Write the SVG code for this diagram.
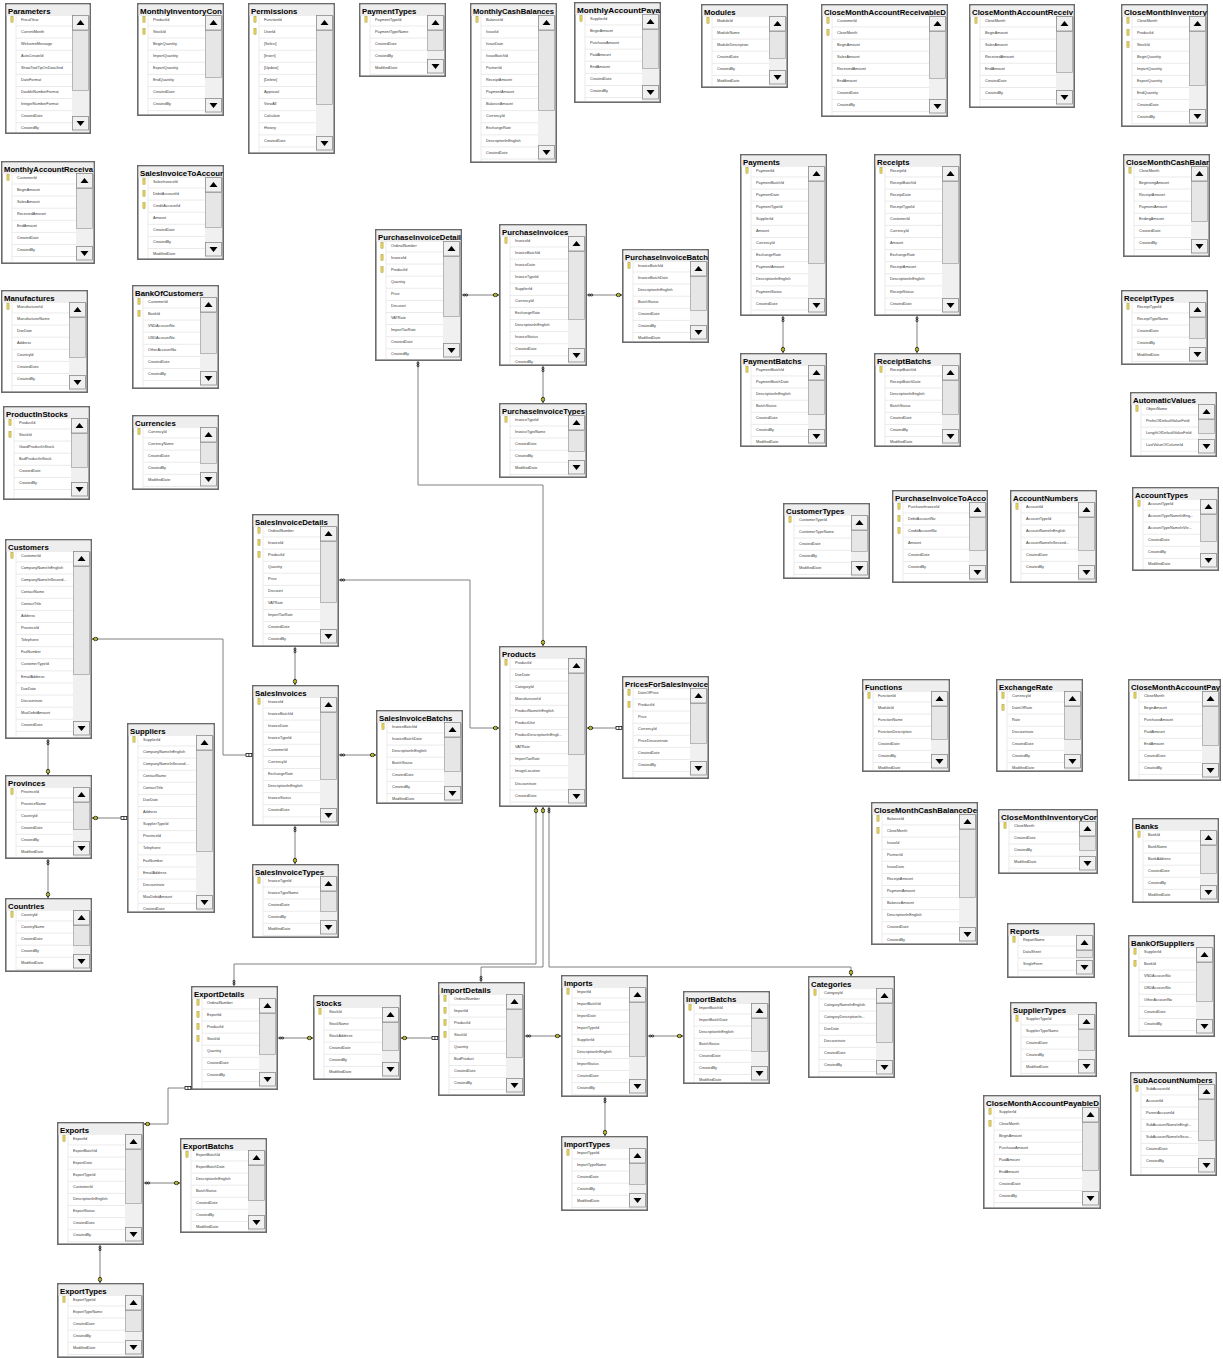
<svg xmlns="http://www.w3.org/2000/svg" xmlns:xlink="http://www.w3.org/1999/xlink" width="1223" height="1358" viewBox="0 0 1223 1358">
<style>
.bx{fill:#fff;stroke:#6b6b6b;stroke-width:1.6}
.hd{fill:#eeeeee}
.tt{font-family:"Liberation Sans",Arial,sans-serif;font-weight:bold;font-size:7.8px;fill:#000}
.f{font-family:"Liberation Sans",Arial,sans-serif;font-size:3.8px;fill:#3a3a3a}
.rw{fill:url(#rows)}
.ks{stroke:#e2e2e2;stroke-width:.7;fill:none}
.tr{fill:#f0f0f0}
.th{fill:#e6e6e6;stroke:#a0a0a0;stroke-width:.7}
.cn{fill:none;stroke:#808080;stroke-width:1}
</style>
<defs>
<pattern id="rows" patternUnits="userSpaceOnUse" width="300" height="12.1" y="10.4"><rect width="300" height="0.7" fill="#e2e2e2"/></pattern>
<g id="ub"><rect x=".5" y=".5" width="16" height="14.5" fill="#f0f0f0" stroke="#8c8c8c" stroke-width=".8"/><path d="M4.5 10L8.5 5L12.5 10Z" fill="#000"/></g>
<g id="db"><rect x=".5" y=".5" width="16" height="13.5" fill="#f0f0f0" stroke="#8c8c8c" stroke-width=".8"/><path d="M4.5 5L12.5 5L8.5 10Z" fill="#000"/></g>
<g id="k"><rect x="-1.1" y="-3" width="2.2" height="6" fill="#e6d25a" stroke="#9c8a2a" stroke-width=".4"/></g>
<g id="gk"><ellipse cx="-3.6" cy="0" rx="2.2" ry="1.7" fill="#ffff4d" stroke="#000" stroke-width=".7"/><line x1="-5.8" y1="0" x2="0" y2="0" stroke="#000" stroke-width=".6"/></g>
<g id="gi"><ellipse cx="-4.6" cy="0" rx="1.2" ry="1" fill="none" stroke="#000" stroke-width=".7"/><ellipse cx="-2.2" cy="0" rx="1.2" ry="1" fill="none" stroke="#000" stroke-width=".7"/></g>
<g id="gb"><rect x="-6" y="-1.6" width="5.8" height="3.2" fill="#fff" stroke="#000" stroke-width=".7"/><line x1="-3.1" y1="-1.6" x2="-3.1" y2="1.6" stroke="#000" stroke-width=".7"/></g>
</defs>
<rect width="1223" height="1358" fill="#fff"/>

<g id="Parameters" transform="translate(5 3)"><rect class="bx" x=".8" y=".8" width="84.4" height="129.4"/><rect class="hd" x="1.6" y="1.6" width="82.8" height="11.4"/><text class="tt" x="3" y="10.5">Parameters</text><rect class="rw" x="11" y="13" width="56" height="116"/><path class="ks" d="M11 13V129"/><g transform="translate(67 0)"><rect class="tr" y="12" width="17" height="117"/><rect class="th" x=".5" y="27.5" width="16" height="60"/><use href="#ub" y="12"/><use href="#db" y="113"/></g><use href="#k" x="7" y="16.3"/><text class="f" x="16" y="17.6"><tspan>FiscalYear</tspan><tspan x="16" dy="12.1">CurrentMonth</tspan><tspan x="16" dy="12.1">WelcomeMessage</tspan><tspan x="16" dy="12.1">AutoCreateId</tspan><tspan x="16" dy="12.1">ShowToolTipOnDataGrid</tspan><tspan x="16" dy="12.1">DateFormat</tspan><tspan x="16" dy="12.1">DoubleNumberFormat</tspan><tspan x="16" dy="12.1">IntegerNumberFormat</tspan><tspan x="16" dy="12.1">CreatedDate</tspan><tspan x="16" dy="12.1">CreatedBy</tspan></text></g>

<g id="MonthlyInventoryCon" transform="translate(137 3)"><rect class="bx" x=".8" y=".8" width="85.4" height="111.4"/><rect class="hd" x="1.6" y="1.6" width="83.8" height="11.4"/><text class="tt" x="3" y="10.5" textLength="82" lengthAdjust="spacingAndGlyphs">MonthlyInventoryCon</text><rect class="rw" x="11" y="13" width="57" height="98"/><path class="ks" d="M11 13V111"/><g transform="translate(68 0)"><rect class="tr" y="12" width="17" height="99"/><rect class="th" x=".5" y="27.5" width="16" height="47"/><use href="#ub" y="12"/><use href="#db" y="95"/></g><use href="#k" x="7" y="16.3"/><use href="#k" x="7" y="28.4"/><text class="f" x="16" y="17.6"><tspan>ProductId</tspan><tspan x="16" dy="12.1">StockId</tspan><tspan x="16" dy="12.1">BeginQuantity</tspan><tspan x="16" dy="12.1">ImportQuantity</tspan><tspan x="16" dy="12.1">ExportQuantity</tspan><tspan x="16" dy="12.1">EndQuantity</tspan><tspan x="16" dy="12.1">CreatedDate</tspan><tspan x="16" dy="12.1">CreatedBy</tspan></text></g>

<g id="Permissions" transform="translate(248 3)"><rect class="bx" x=".8" y=".8" width="85.4" height="149.4"/><rect class="hd" x="1.6" y="1.6" width="83.8" height="11.4"/><text class="tt" x="3" y="10.5">Permissions</text><rect class="rw" x="11" y="13" width="57" height="136"/><path class="ks" d="M11 13V149"/><g transform="translate(68 0)"><rect class="tr" y="12" width="17" height="137"/><rect class="th" x=".5" y="27.5" width="16" height="74"/><use href="#ub" y="12"/><use href="#db" y="133"/></g><use href="#k" x="7" y="16.3"/><use href="#k" x="7" y="28.4"/><text class="f" x="16" y="17.6"><tspan>FunctionId</tspan><tspan x="16" dy="12.1">UserId</tspan><tspan x="16" dy="12.1">[Select]</tspan><tspan x="16" dy="12.1">[Insert]</tspan><tspan x="16" dy="12.1">[Update]</tspan><tspan x="16" dy="12.1">[Delete]</tspan><tspan x="16" dy="12.1">Approval</tspan><tspan x="16" dy="12.1">ViewAll</tspan><tspan x="16" dy="12.1">Calculate</tspan><tspan x="16" dy="12.1">History</tspan><tspan x="16" dy="12.1">CreatedDate</tspan></text></g>

<g id="PaymentTypes" transform="translate(359 3)"><rect class="bx" x=".8" y=".8" width="85.4" height="72.4"/><rect class="hd" x="1.6" y="1.6" width="83.8" height="11.4"/><text class="tt" x="3" y="10.5">PaymentTypes</text><rect class="rw" x="11" y="13" width="57" height="59"/><path class="ks" d="M11 13V72"/><g transform="translate(68 0)"><rect class="tr" y="12" width="17" height="60"/><rect class="th" x=".5" y="27.5" width="16" height="20"/><use href="#ub" y="12"/><use href="#db" y="56"/></g><use href="#k" x="7" y="16.3"/><text class="f" x="16" y="17.6"><tspan>PaymentTypeId</tspan><tspan x="16" dy="12.1">PaymentTypeName</tspan><tspan x="16" dy="12.1">CreatedDate</tspan><tspan x="16" dy="12.1">CreatedBy</tspan><tspan x="16" dy="12.1">ModifiedDate</tspan></text></g>

<g id="MonthlyCashBalances" transform="translate(470 3)"><rect class="bx" x=".8" y=".8" width="85.4" height="158.4"/><rect class="hd" x="1.6" y="1.6" width="83.8" height="11.4"/><text class="tt" x="3" y="10.5" textLength="81" lengthAdjust="spacingAndGlyphs">MonthlyCashBalances</text><rect class="rw" x="11" y="13" width="57" height="145"/><path class="ks" d="M11 13V158"/><g transform="translate(68 0)"><rect class="tr" y="12" width="17" height="146"/><rect class="th" x=".5" y="27.5" width="16" height="80"/><use href="#ub" y="12"/><use href="#db" y="142"/></g><use href="#k" x="7" y="16.3"/><text class="f" x="16" y="17.6"><tspan>BalanceId</tspan><tspan x="16" dy="12.1">IssueId</tspan><tspan x="16" dy="12.1">IssueDate</tspan><tspan x="16" dy="12.1">IssueBatchId</tspan><tspan x="16" dy="12.1">PartnerId</tspan><tspan x="16" dy="12.1">ReceiptAmount</tspan><tspan x="16" dy="12.1">PaymentAmount</tspan><tspan x="16" dy="12.1">BalanceAmount</tspan><tspan x="16" dy="12.1">CurrencyId</tspan><tspan x="16" dy="12.1">ExchangeRate</tspan><tspan x="16" dy="12.1">DescriptionInEnglish</tspan><tspan x="16" dy="12.1">CreatedDate</tspan></text></g>

<g id="MonthlyAccountPaya" transform="translate(574 2)"><rect class="bx" x=".8" y=".8" width="85.4" height="99.4"/><rect class="hd" x="1.6" y="1.6" width="83.8" height="11.4"/><text class="tt" x="3" y="10.5" textLength="83" lengthAdjust="spacingAndGlyphs">MonthlyAccountPaya</text><rect class="rw" x="11" y="13" width="57" height="86"/><path class="ks" d="M11 13V99"/><g transform="translate(68 0)"><rect class="tr" y="12" width="17" height="87"/><rect class="th" x=".5" y="27.5" width="16" height="39"/><use href="#ub" y="12"/><use href="#db" y="83"/></g><use href="#k" x="7" y="16.3"/><text class="f" x="16" y="17.6"><tspan>SupplierId</tspan><tspan x="16" dy="12.1">BeginAmount</tspan><tspan x="16" dy="12.1">PurchaseAmount</tspan><tspan x="16" dy="12.1">PaidAmount</tspan><tspan x="16" dy="12.1">EndAmount</tspan><tspan x="16" dy="12.1">CreatedDate</tspan><tspan x="16" dy="12.1">CreatedBy</tspan></text></g>

<g id="Modules" transform="translate(701 4)"><rect class="bx" x=".8" y=".8" width="85.4" height="82.4"/><rect class="hd" x="1.6" y="1.6" width="83.8" height="11.4"/><text class="tt" x="3" y="10.5">Modules</text><rect class="rw" x="11" y="13" width="57" height="69"/><path class="ks" d="M11 13V82"/><g transform="translate(68 0)"><rect class="tr" y="12" width="17" height="70"/><rect class="th" x=".5" y="27.5" width="16" height="27"/><use href="#ub" y="12"/><use href="#db" y="66"/></g><use href="#k" x="7" y="16.3"/><text class="f" x="16" y="17.6"><tspan>ModuleId</tspan><tspan x="16" dy="12.1">ModuleName</tspan><tspan x="16" dy="12.1">ModuleDescription</tspan><tspan x="16" dy="12.1">CreatedDate</tspan><tspan x="16" dy="12.1">CreatedBy</tspan><tspan x="16" dy="12.1">ModifiedDate</tspan></text></g>

<g id="CloseMonthAccountReceivableD" transform="translate(821 4)"><rect class="bx" x=".8" y=".8" width="125.4" height="111.4"/><rect class="hd" x="1.6" y="1.6" width="123.8" height="11.4"/><text class="tt" x="3" y="10.5" textLength="122" lengthAdjust="spacingAndGlyphs">CloseMonthAccountReceivableD</text><rect class="rw" x="11" y="13" width="97" height="98"/><path class="ks" d="M11 13V111"/><g transform="translate(108 0)"><rect class="tr" y="12" width="17" height="99"/><rect class="th" x=".5" y="27.5" width="16" height="47"/><use href="#ub" y="12"/><use href="#db" y="95"/></g><use href="#k" x="7" y="16.3"/><use href="#k" x="7" y="28.4"/><text class="f" x="16" y="17.6"><tspan>CustomerId</tspan><tspan x="16" dy="12.1">CloseMonth</tspan><tspan x="16" dy="12.1">BeginAmount</tspan><tspan x="16" dy="12.1">SalesAmount</tspan><tspan x="16" dy="12.1">ReceivedAmount</tspan><tspan x="16" dy="12.1">EndAmount</tspan><tspan x="16" dy="12.1">CreatedDate</tspan><tspan x="16" dy="12.1">CreatedBy</tspan></text></g>

<g id="CloseMonthAccountReceiv" transform="translate(969 4)"><rect class="bx" x=".8" y=".8" width="104.4" height="102.4"/><rect class="hd" x="1.6" y="1.6" width="102.8" height="11.4"/><text class="tt" x="3" y="10.5" textLength="101" lengthAdjust="spacingAndGlyphs">CloseMonthAccountReceiv</text><rect class="rw" x="11" y="13" width="76" height="89"/><path class="ks" d="M11 13V102"/><g transform="translate(87 0)"><rect class="tr" y="12" width="17" height="90"/><rect class="th" x=".5" y="27.5" width="16" height="41"/><use href="#ub" y="12"/><use href="#db" y="86"/></g><use href="#k" x="7" y="16.3"/><text class="f" x="16" y="17.6"><tspan>CloseMonth</tspan><tspan x="16" dy="12.1">BeginAmount</tspan><tspan x="16" dy="12.1">SalesAmount</tspan><tspan x="16" dy="12.1">ReceivedAmount</tspan><tspan x="16" dy="12.1">EndAmount</tspan><tspan x="16" dy="12.1">CreatedDate</tspan><tspan x="16" dy="12.1">CreatedBy</tspan></text></g>

<g id="CloseMonthInventory" transform="translate(1121 4)"><rect class="bx" x=".8" y=".8" width="85.4" height="121.4"/><rect class="hd" x="1.6" y="1.6" width="83.8" height="11.4"/><text class="tt" x="3" y="10.5" textLength="83" lengthAdjust="spacingAndGlyphs">CloseMonthInventory</text><rect class="rw" x="11" y="13" width="57" height="108"/><path class="ks" d="M11 13V121"/><g transform="translate(68 0)"><rect class="tr" y="12" width="17" height="109"/><rect class="th" x=".5" y="27.5" width="16" height="54"/><use href="#ub" y="12"/><use href="#db" y="105"/></g><use href="#k" x="7" y="16.3"/><use href="#k" x="7" y="28.4"/><use href="#k" x="7" y="40.5"/><text class="f" x="16" y="17.6"><tspan>CloseMonth</tspan><tspan x="16" dy="12.1">ProductId</tspan><tspan x="16" dy="12.1">StockId</tspan><tspan x="16" dy="12.1">BeginQuantity</tspan><tspan x="16" dy="12.1">ImportQuantity</tspan><tspan x="16" dy="12.1">ExportQuantity</tspan><tspan x="16" dy="12.1">EndQuantity</tspan><tspan x="16" dy="12.1">CreatedDate</tspan><tspan x="16" dy="12.1">CreatedBy</tspan></text></g>

<g id="MonthlyAccountReceiva" transform="translate(1 161)"><rect class="bx" x=".8" y=".8" width="92.4" height="101.4"/><rect class="hd" x="1.6" y="1.6" width="90.8" height="11.4"/><text class="tt" x="3" y="10.5" textLength="89" lengthAdjust="spacingAndGlyphs">MonthlyAccountReceiva</text><rect class="rw" x="11" y="13" width="64" height="88"/><path class="ks" d="M11 13V101"/><g transform="translate(75 0)"><rect class="tr" y="12" width="17" height="89"/><rect class="th" x=".5" y="27.5" width="16" height="40"/><use href="#ub" y="12"/><use href="#db" y="85"/></g><use href="#k" x="7" y="16.3"/><text class="f" x="16" y="17.6"><tspan>CustomerId</tspan><tspan x="16" dy="12.1">BeginAmount</tspan><tspan x="16" dy="12.1">SalesAmount</tspan><tspan x="16" dy="12.1">ReceivedAmount</tspan><tspan x="16" dy="12.1">EndAmount</tspan><tspan x="16" dy="12.1">CreatedDate</tspan><tspan x="16" dy="12.1">CreatedBy</tspan></text></g>

<g id="SalesInvoiceToAccour" transform="translate(137 165)"><rect class="bx" x=".8" y=".8" width="85.4" height="93.4"/><rect class="hd" x="1.6" y="1.6" width="83.8" height="11.4"/><text class="tt" x="3" y="10.5" textLength="83" lengthAdjust="spacingAndGlyphs">SalesInvoiceToAccour</text><rect class="rw" x="11" y="13" width="57" height="80"/><path class="ks" d="M11 13V93"/><g transform="translate(68 0)"><rect class="tr" y="12" width="17" height="81"/><rect class="th" x=".5" y="27.5" width="16" height="35"/><use href="#ub" y="12"/><use href="#db" y="77"/></g><use href="#k" x="7" y="16.3"/><use href="#k" x="7" y="28.4"/><use href="#k" x="7" y="40.5"/><text class="f" x="16" y="17.6"><tspan>SalesInvoiceId</tspan><tspan x="16" dy="12.1">DebitAccountId</tspan><tspan x="16" dy="12.1">CreditAccountId</tspan><tspan x="16" dy="12.1">Amount</tspan><tspan x="16" dy="12.1">CreatedDate</tspan><tspan x="16" dy="12.1">CreatedBy</tspan><tspan x="16" dy="12.1">ModifiedDate</tspan></text></g>

<g id="Manufactures" transform="translate(1 290)"><rect class="bx" x=".8" y=".8" width="85.4" height="101.4"/><rect class="hd" x="1.6" y="1.6" width="83.8" height="11.4"/><text class="tt" x="3" y="10.5">Manufactures</text><rect class="rw" x="11" y="13" width="57" height="88"/><path class="ks" d="M11 13V101"/><g transform="translate(68 0)"><rect class="tr" y="12" width="17" height="89"/><rect class="th" x=".5" y="27.5" width="16" height="40"/><use href="#ub" y="12"/><use href="#db" y="85"/></g><use href="#k" x="7" y="16.3"/><text class="f" x="16" y="17.6"><tspan>ManufacturerId</tspan><tspan x="16" dy="12.1">ManufacturerName</tspan><tspan x="16" dy="12.1">DueDate</tspan><tspan x="16" dy="12.1">Address</tspan><tspan x="16" dy="12.1">CountryId</tspan><tspan x="16" dy="12.1">CreatedDate</tspan><tspan x="16" dy="12.1">CreatedBy</tspan></text></g>

<g id="BankOfCustomers" transform="translate(132 285)"><rect class="bx" x=".8" y=".8" width="85.4" height="102.4"/><rect class="hd" x="1.6" y="1.6" width="83.8" height="11.4"/><text class="tt" x="3" y="10.5">BankOfCustomers</text><rect class="rw" x="11" y="13" width="57" height="89"/><path class="ks" d="M11 13V102"/><g transform="translate(68 0)"><rect class="tr" y="12" width="17" height="90"/><rect class="th" x=".5" y="27.5" width="16" height="41"/><use href="#ub" y="12"/><use href="#db" y="86"/></g><use href="#k" x="7" y="16.3"/><use href="#k" x="7" y="28.4"/><text class="f" x="16" y="17.6"><tspan>CustomerId</tspan><tspan x="16" dy="12.1">BankId</tspan><tspan x="16" dy="12.1">VNDAccountNo</tspan><tspan x="16" dy="12.1">USDAccountNo</tspan><tspan x="16" dy="12.1">OtherAccountNo</tspan><tspan x="16" dy="12.1">CreatedDate</tspan><tspan x="16" dy="12.1">CreatedBy</tspan></text></g>

<g id="ProductInStocks" transform="translate(3 406)"><rect class="bx" x=".8" y=".8" width="85.4" height="92.4"/><rect class="hd" x="1.6" y="1.6" width="83.8" height="11.4"/><text class="tt" x="3" y="10.5">ProductInStocks</text><rect class="rw" x="11" y="13" width="57" height="79"/><path class="ks" d="M11 13V92"/><g transform="translate(68 0)"><rect class="tr" y="12" width="17" height="80"/><rect class="th" x=".5" y="27.5" width="16" height="34"/><use href="#ub" y="12"/><use href="#db" y="76"/></g><use href="#k" x="7" y="16.3"/><use href="#k" x="7" y="28.4"/><text class="f" x="16" y="17.6"><tspan>ProductId</tspan><tspan x="16" dy="12.1">StockId</tspan><tspan x="16" dy="12.1">GoodProductInStock</tspan><tspan x="16" dy="12.1">BadProductInStock</tspan><tspan x="16" dy="12.1">CreatedDate</tspan><tspan x="16" dy="12.1">CreatedBy</tspan></text></g>

<g id="Currencies" transform="translate(132 415)"><rect class="bx" x=".8" y=".8" width="85.4" height="73.4"/><rect class="hd" x="1.6" y="1.6" width="83.8" height="11.4"/><text class="tt" x="3" y="10.5">Currencies</text><rect class="rw" x="11" y="13" width="57" height="60"/><path class="ks" d="M11 13V73"/><g transform="translate(68 0)"><rect class="tr" y="12" width="17" height="61"/><rect class="th" x=".5" y="27.5" width="16" height="21"/><use href="#ub" y="12"/><use href="#db" y="57"/></g><use href="#k" x="7" y="16.3"/><text class="f" x="16" y="17.6"><tspan>CurrencyId</tspan><tspan x="16" dy="12.1">CurrencyName</tspan><tspan x="16" dy="12.1">CreatedDate</tspan><tspan x="16" dy="12.1">CreatedBy</tspan><tspan x="16" dy="12.1">ModifiedDate</tspan></text></g>

<g id="Customers" transform="translate(5 539)"><rect class="bx" x=".8" y=".8" width="85.4" height="198.4"/><rect class="hd" x="1.6" y="1.6" width="83.8" height="11.4"/><text class="tt" x="3" y="10.5">Customers</text><rect class="rw" x="11" y="13" width="57" height="185"/><path class="ks" d="M11 13V198"/><g transform="translate(68 0)"><rect class="tr" y="12" width="17" height="186"/><rect class="th" x=".5" y="27.5" width="16" height="108"/><use href="#ub" y="12"/><use href="#db" y="182"/></g><use href="#k" x="7" y="16.3"/><text class="f" x="16" y="17.6"><tspan>CustomerId</tspan><tspan x="16" dy="12.1">CompanyNameInEnglish</tspan><tspan x="16" dy="12.1">CompanyNameInSecond...</tspan><tspan x="16" dy="12.1">ContactName</tspan><tspan x="16" dy="12.1">ContactTitle</tspan><tspan x="16" dy="12.1">Address</tspan><tspan x="16" dy="12.1">ProvinceId</tspan><tspan x="16" dy="12.1">Telephone</tspan><tspan x="16" dy="12.1">FaxNumber</tspan><tspan x="16" dy="12.1">CustomerTypeId</tspan><tspan x="16" dy="12.1">EmailAddress</tspan><tspan x="16" dy="12.1">DueDate</tspan><tspan x="16" dy="12.1">Discountrate</tspan><tspan x="16" dy="12.1">MaxDebitAmount</tspan><tspan x="16" dy="12.1">CreatedDate</tspan></text></g>

<g id="SalesInvoiceDetails" transform="translate(252 514)"><rect class="bx" x=".8" y=".8" width="85.4" height="131.4"/><rect class="hd" x="1.6" y="1.6" width="83.8" height="11.4"/><text class="tt" x="3" y="10.5">SalesInvoiceDetails</text><rect class="rw" x="11" y="13" width="57" height="118"/><path class="ks" d="M11 13V131"/><g transform="translate(68 0)"><rect class="tr" y="12" width="17" height="119"/><rect class="th" x=".5" y="27.5" width="16" height="61"/><use href="#ub" y="12"/><use href="#db" y="115"/></g><use href="#k" x="7" y="16.3"/><use href="#k" x="7" y="28.4"/><use href="#k" x="7" y="40.5"/><text class="f" x="16" y="17.6"><tspan>OrdinalNumber</tspan><tspan x="16" dy="12.1">InvoiceId</tspan><tspan x="16" dy="12.1">ProductId</tspan><tspan x="16" dy="12.1">Quantity</tspan><tspan x="16" dy="12.1">Price</tspan><tspan x="16" dy="12.1">Discount</tspan><tspan x="16" dy="12.1">VATRate</tspan><tspan x="16" dy="12.1">ImportTaxRate</tspan><tspan x="16" dy="12.1">CreatedDate</tspan><tspan x="16" dy="12.1">CreatedBy</tspan></text></g>

<g id="PurchaseInvoiceDetail" transform="translate(375 229)"><rect class="bx" x=".8" y=".8" width="85.4" height="130.4"/><rect class="hd" x="1.6" y="1.6" width="83.8" height="11.4"/><text class="tt" x="3" y="10.5" textLength="83" lengthAdjust="spacingAndGlyphs">PurchaseInvoiceDetail</text><rect class="rw" x="11" y="13" width="57" height="117"/><path class="ks" d="M11 13V130"/><g transform="translate(68 0)"><rect class="tr" y="12" width="17" height="118"/><rect class="th" x=".5" y="27.5" width="16" height="60"/><use href="#ub" y="12"/><use href="#db" y="114"/></g><use href="#k" x="7" y="16.3"/><use href="#k" x="7" y="28.4"/><use href="#k" x="7" y="40.5"/><text class="f" x="16" y="17.6"><tspan>OrdinalNumber</tspan><tspan x="16" dy="12.1">InvoiceId</tspan><tspan x="16" dy="12.1">ProductId</tspan><tspan x="16" dy="12.1">Quantity</tspan><tspan x="16" dy="12.1">Price</tspan><tspan x="16" dy="12.1">Discount</tspan><tspan x="16" dy="12.1">VATRate</tspan><tspan x="16" dy="12.1">ImportTaxRate</tspan><tspan x="16" dy="12.1">CreatedDate</tspan><tspan x="16" dy="12.1">CreatedBy</tspan></text></g>

<g id="PurchaseInvoices" transform="translate(499 224)"><rect class="bx" x=".8" y=".8" width="86.4" height="140.4"/><rect class="hd" x="1.6" y="1.6" width="84.8" height="11.4"/><text class="tt" x="3" y="10.5">PurchaseInvoices</text><rect class="rw" x="11" y="13" width="58" height="127"/><path class="ks" d="M11 13V140"/><g transform="translate(69 0)"><rect class="tr" y="12" width="17" height="128"/><rect class="th" x=".5" y="27.5" width="16" height="68"/><use href="#ub" y="12"/><use href="#db" y="124"/></g><use href="#k" x="7" y="16.3"/><text class="f" x="16" y="17.6"><tspan>InvoiceId</tspan><tspan x="16" dy="12.1">InvoiceBatchId</tspan><tspan x="16" dy="12.1">InvoiceDate</tspan><tspan x="16" dy="12.1">InvoiceTypeId</tspan><tspan x="16" dy="12.1">SupplierId</tspan><tspan x="16" dy="12.1">CurrencyId</tspan><tspan x="16" dy="12.1">ExchangeRate</tspan><tspan x="16" dy="12.1">DescriptionInEnglish</tspan><tspan x="16" dy="12.1">InvoiceStatus</tspan><tspan x="16" dy="12.1">CreatedDate</tspan><tspan x="16" dy="12.1">CreatedBy</tspan></text></g>

<g id="PurchaseInvoiceBatch" transform="translate(622 249)"><rect class="bx" x=".8" y=".8" width="85.4" height="92.4"/><rect class="hd" x="1.6" y="1.6" width="83.8" height="11.4"/><text class="tt" x="3" y="10.5" textLength="83" lengthAdjust="spacingAndGlyphs">PurchaseInvoiceBatch</text><rect class="rw" x="11" y="13" width="57" height="79"/><path class="ks" d="M11 13V92"/><g transform="translate(68 0)"><rect class="tr" y="12" width="17" height="80"/><rect class="th" x=".5" y="27.5" width="16" height="34"/><use href="#ub" y="12"/><use href="#db" y="76"/></g><use href="#k" x="7" y="16.3"/><text class="f" x="16" y="17.6"><tspan>InvoiceBatchId</tspan><tspan x="16" dy="12.1">InvoiceBatchDate</tspan><tspan x="16" dy="12.1">DescriptionInEnglish</tspan><tspan x="16" dy="12.1">BatchStatus</tspan><tspan x="16" dy="12.1">CreatedDate</tspan><tspan x="16" dy="12.1">CreatedBy</tspan><tspan x="16" dy="12.1">ModifiedDate</tspan></text></g>

<g id="Payments" transform="translate(740 154)"><rect class="bx" x=".8" y=".8" width="85.4" height="160.4"/><rect class="hd" x="1.6" y="1.6" width="83.8" height="11.4"/><text class="tt" x="3" y="10.5">Payments</text><rect class="rw" x="11" y="13" width="57" height="147"/><path class="ks" d="M11 13V160"/><g transform="translate(68 0)"><rect class="tr" y="12" width="17" height="148"/><rect class="th" x=".5" y="27.5" width="16" height="82"/><use href="#ub" y="12"/><use href="#db" y="144"/></g><use href="#k" x="7" y="16.3"/><text class="f" x="16" y="17.6"><tspan>PaymentId</tspan><tspan x="16" dy="12.1">PaymentBatchId</tspan><tspan x="16" dy="12.1">PaymentDate</tspan><tspan x="16" dy="12.1">PaymentTypeId</tspan><tspan x="16" dy="12.1">SupplierId</tspan><tspan x="16" dy="12.1">Amount</tspan><tspan x="16" dy="12.1">CurrencyId</tspan><tspan x="16" dy="12.1">ExchangeRate</tspan><tspan x="16" dy="12.1">PaymentAmount</tspan><tspan x="16" dy="12.1">DescriptionInEnglish</tspan><tspan x="16" dy="12.1">PaymentStatus</tspan><tspan x="16" dy="12.1">CreatedDate</tspan></text></g>

<g id="Receipts" transform="translate(874 154)"><rect class="bx" x=".8" y=".8" width="85.4" height="160.4"/><rect class="hd" x="1.6" y="1.6" width="83.8" height="11.4"/><text class="tt" x="3" y="10.5">Receipts</text><rect class="rw" x="11" y="13" width="57" height="147"/><path class="ks" d="M11 13V160"/><g transform="translate(68 0)"><rect class="tr" y="12" width="17" height="148"/><rect class="th" x=".5" y="27.5" width="16" height="82"/><use href="#ub" y="12"/><use href="#db" y="144"/></g><use href="#k" x="7" y="16.3"/><text class="f" x="16" y="17.6"><tspan>ReceiptId</tspan><tspan x="16" dy="12.1">ReceiptBatchId</tspan><tspan x="16" dy="12.1">ReceiptDate</tspan><tspan x="16" dy="12.1">ReceiptTypeId</tspan><tspan x="16" dy="12.1">CustomerId</tspan><tspan x="16" dy="12.1">CurrencyId</tspan><tspan x="16" dy="12.1">Amount</tspan><tspan x="16" dy="12.1">ExchangeRate</tspan><tspan x="16" dy="12.1">ReceiptAmount</tspan><tspan x="16" dy="12.1">DescriptionInEnglish</tspan><tspan x="16" dy="12.1">ReceiptStatus</tspan><tspan x="16" dy="12.1">CreatedDate</tspan></text></g>

<g id="CloseMonthCashBalar" transform="translate(1123 154)"><rect class="bx" x=".8" y=".8" width="85.4" height="101.4"/><rect class="hd" x="1.6" y="1.6" width="83.8" height="11.4"/><text class="tt" x="3" y="10.5" textLength="83" lengthAdjust="spacingAndGlyphs">CloseMonthCashBalar</text><rect class="rw" x="11" y="13" width="57" height="88"/><path class="ks" d="M11 13V101"/><g transform="translate(68 0)"><rect class="tr" y="12" width="17" height="89"/><rect class="th" x=".5" y="27.5" width="16" height="40"/><use href="#ub" y="12"/><use href="#db" y="85"/></g><use href="#k" x="7" y="16.3"/><text class="f" x="16" y="17.6"><tspan>CloseMonth</tspan><tspan x="16" dy="12.1">BeginningAmount</tspan><tspan x="16" dy="12.1">ReceiptAmount</tspan><tspan x="16" dy="12.1">PaymentAmount</tspan><tspan x="16" dy="12.1">EndingAmount</tspan><tspan x="16" dy="12.1">CreatedDate</tspan><tspan x="16" dy="12.1">CreatedBy</tspan></text></g>

<g id="ReceiptTypes" transform="translate(1121 290)"><rect class="bx" x=".8" y=".8" width="85.4" height="73.4"/><rect class="hd" x="1.6" y="1.6" width="83.8" height="11.4"/><text class="tt" x="3" y="10.5">ReceiptTypes</text><rect class="rw" x="11" y="13" width="57" height="60"/><path class="ks" d="M11 13V73"/><g transform="translate(68 0)"><rect class="tr" y="12" width="17" height="61"/><rect class="th" x=".5" y="27.5" width="16" height="21"/><use href="#ub" y="12"/><use href="#db" y="57"/></g><use href="#k" x="7" y="16.3"/><text class="f" x="16" y="17.6"><tspan>ReceiptTypeId</tspan><tspan x="16" dy="12.1">ReceiptTypeName</tspan><tspan x="16" dy="12.1">CreatedDate</tspan><tspan x="16" dy="12.1">CreatedBy</tspan><tspan x="16" dy="12.1">ModifiedDate</tspan></text></g>

<g id="PurchaseInvoiceTypes" transform="translate(499 403)"><rect class="bx" x=".8" y=".8" width="86.4" height="73.4"/><rect class="hd" x="1.6" y="1.6" width="84.8" height="11.4"/><text class="tt" x="3" y="10.5" textLength="83" lengthAdjust="spacingAndGlyphs">PurchaseInvoiceTypes</text><rect class="rw" x="11" y="13" width="58" height="60"/><path class="ks" d="M11 13V73"/><g transform="translate(69 0)"><rect class="tr" y="12" width="17" height="61"/><rect class="th" x=".5" y="27.5" width="16" height="21"/><use href="#ub" y="12"/><use href="#db" y="57"/></g><use href="#k" x="7" y="16.3"/><text class="f" x="16" y="17.6"><tspan>InvoiceTypeId</tspan><tspan x="16" dy="12.1">InvoiceTypeName</tspan><tspan x="16" dy="12.1">CreatedDate</tspan><tspan x="16" dy="12.1">CreatedBy</tspan><tspan x="16" dy="12.1">ModifiedDate</tspan></text></g>

<g id="PaymentBatchs" transform="translate(740 353)"><rect class="bx" x=".8" y=".8" width="85.4" height="92.4"/><rect class="hd" x="1.6" y="1.6" width="83.8" height="11.4"/><text class="tt" x="3" y="10.5">PaymentBatchs</text><rect class="rw" x="11" y="13" width="57" height="79"/><path class="ks" d="M11 13V92"/><g transform="translate(68 0)"><rect class="tr" y="12" width="17" height="80"/><rect class="th" x=".5" y="27.5" width="16" height="34"/><use href="#ub" y="12"/><use href="#db" y="76"/></g><use href="#k" x="7" y="16.3"/><text class="f" x="16" y="17.6"><tspan>PaymentBatchId</tspan><tspan x="16" dy="12.1">PaymentBatchDate</tspan><tspan x="16" dy="12.1">DescriptionInEnglish</tspan><tspan x="16" dy="12.1">BatchStatus</tspan><tspan x="16" dy="12.1">CreatedDate</tspan><tspan x="16" dy="12.1">CreatedBy</tspan><tspan x="16" dy="12.1">ModifiedDate</tspan></text></g>

<g id="ReceiptBatchs" transform="translate(874 353)"><rect class="bx" x=".8" y=".8" width="85.4" height="92.4"/><rect class="hd" x="1.6" y="1.6" width="83.8" height="11.4"/><text class="tt" x="3" y="10.5">ReceiptBatchs</text><rect class="rw" x="11" y="13" width="57" height="79"/><path class="ks" d="M11 13V92"/><g transform="translate(68 0)"><rect class="tr" y="12" width="17" height="80"/><rect class="th" x=".5" y="27.5" width="16" height="34"/><use href="#ub" y="12"/><use href="#db" y="76"/></g><use href="#k" x="7" y="16.3"/><text class="f" x="16" y="17.6"><tspan>ReceiptBatchId</tspan><tspan x="16" dy="12.1">ReceiptBatchDate</tspan><tspan x="16" dy="12.1">DescriptionInEnglish</tspan><tspan x="16" dy="12.1">BatchStatus</tspan><tspan x="16" dy="12.1">CreatedDate</tspan><tspan x="16" dy="12.1">CreatedBy</tspan><tspan x="16" dy="12.1">ModifiedDate</tspan></text></g>

<g id="AutomaticValues" transform="translate(1130 392)"><rect class="bx" x=".8" y=".8" width="85.4" height="63.4"/><rect class="hd" x="1.6" y="1.6" width="83.8" height="11.4"/><text class="tt" x="3" y="10.5">AutomaticValues</text><rect class="rw" x="11" y="13" width="57" height="50"/><path class="ks" d="M11 13V63"/><g transform="translate(68 0)"><rect class="tr" y="12" width="17" height="51"/><rect class="th" x=".5" y="27.5" width="16" height="14"/><use href="#ub" y="12"/><use href="#db" y="47"/></g><use href="#k" x="7" y="16.3"/><text class="f" x="16" y="17.6"><tspan>ObjectName</tspan><tspan x="16" dy="12.1">PrefixOfDefaultValueField</tspan><tspan x="16" dy="12.1">LengthOfDefaultValueField</tspan><tspan x="16" dy="12.1">LastValueOfColumnId</tspan></text></g>

<g id="CustomerTypes" transform="translate(783 503)"><rect class="bx" x=".8" y=".8" width="85.4" height="74.4"/><rect class="hd" x="1.6" y="1.6" width="83.8" height="11.4"/><text class="tt" x="3" y="10.5">CustomerTypes</text><rect class="rw" x="11" y="13" width="57" height="61"/><path class="ks" d="M11 13V74"/><g transform="translate(68 0)"><rect class="tr" y="12" width="17" height="62"/><rect class="th" x=".5" y="27.5" width="16" height="21"/><use href="#ub" y="12"/><use href="#db" y="58"/></g><use href="#k" x="7" y="16.3"/><text class="f" x="16" y="17.6"><tspan>CustomerTypeId</tspan><tspan x="16" dy="12.1">CustomerTypeName</tspan><tspan x="16" dy="12.1">CreatedDate</tspan><tspan x="16" dy="12.1">CreatedBy</tspan><tspan x="16" dy="12.1">ModifiedDate</tspan></text></g>

<g id="PurchaseInvoiceToAcco" transform="translate(892 490)"><rect class="bx" x=".8" y=".8" width="94.4" height="91.4"/><rect class="hd" x="1.6" y="1.6" width="92.8" height="11.4"/><text class="tt" x="3" y="10.5" textLength="91" lengthAdjust="spacingAndGlyphs">PurchaseInvoiceToAcco</text><rect class="rw" x="11" y="13" width="66" height="78"/><path class="ks" d="M11 13V91"/><g transform="translate(77 0)"><rect class="tr" y="12" width="17" height="79"/><rect class="th" x=".5" y="27.5" width="16" height="33"/><use href="#ub" y="12"/><use href="#db" y="75"/></g><use href="#k" x="7" y="16.3"/><use href="#k" x="7" y="28.4"/><use href="#k" x="7" y="40.5"/><text class="f" x="16" y="17.6"><tspan>PurchaseInvoiceId</tspan><tspan x="16" dy="12.1">DebitAccountNo</tspan><tspan x="16" dy="12.1">CreditAccountNo</tspan><tspan x="16" dy="12.1">Amount</tspan><tspan x="16" dy="12.1">CreatedDate</tspan><tspan x="16" dy="12.1">CreatedBy</tspan></text></g>

<g id="AccountNumbers" transform="translate(1010 490)"><rect class="bx" x=".8" y=".8" width="85.4" height="91.4"/><rect class="hd" x="1.6" y="1.6" width="83.8" height="11.4"/><text class="tt" x="3" y="10.5">AccountNumbers</text><rect class="rw" x="11" y="13" width="57" height="78"/><path class="ks" d="M11 13V91"/><g transform="translate(68 0)"><rect class="tr" y="12" width="17" height="79"/><rect class="th" x=".5" y="27.5" width="16" height="33"/><use href="#ub" y="12"/><use href="#db" y="75"/></g><use href="#k" x="7" y="16.3"/><text class="f" x="16" y="17.6"><tspan>AccountId</tspan><tspan x="16" dy="12.1">AccountTypeId</tspan><tspan x="16" dy="12.1">AccountNameInEnglish</tspan><tspan x="16" dy="12.1">AccountNameInSecond...</tspan><tspan x="16" dy="12.1">CreatedDate</tspan><tspan x="16" dy="12.1">CreatedBy</tspan></text></g>

<g id="AccountTypes" transform="translate(1132 487)"><rect class="bx" x=".8" y=".8" width="85.4" height="82.4"/><rect class="hd" x="1.6" y="1.6" width="83.8" height="11.4"/><text class="tt" x="3" y="10.5">AccountTypes</text><rect class="rw" x="11" y="13" width="57" height="69"/><path class="ks" d="M11 13V82"/><g transform="translate(68 0)"><rect class="tr" y="12" width="17" height="70"/><rect class="th" x=".5" y="27.5" width="16" height="27"/><use href="#ub" y="12"/><use href="#db" y="66"/></g><use href="#k" x="7" y="16.3"/><text class="f" x="16" y="17.6"><tspan>AccountTypeId</tspan><tspan x="16" dy="12.1">AccountTypeNameInEng...</tspan><tspan x="16" dy="12.1">AccountTypeNameInVie...</tspan><tspan x="16" dy="12.1">CreatedDate</tspan><tspan x="16" dy="12.1">CreatedBy</tspan><tspan x="16" dy="12.1">ModifiedDate</tspan></text></g>

<g id="Products" transform="translate(499 646)"><rect class="bx" x=".8" y=".8" width="86.4" height="159.4"/><rect class="hd" x="1.6" y="1.6" width="84.8" height="11.4"/><text class="tt" x="3" y="10.5">Products</text><rect class="rw" x="11" y="13" width="58" height="146"/><path class="ks" d="M11 13V159"/><g transform="translate(69 0)"><rect class="tr" y="12" width="17" height="147"/><rect class="th" x=".5" y="27.5" width="16" height="81"/><use href="#ub" y="12"/><use href="#db" y="143"/></g><use href="#k" x="7" y="16.3"/><text class="f" x="16" y="17.6"><tspan>ProductId</tspan><tspan x="16" dy="12.1">DueDate</tspan><tspan x="16" dy="12.1">CategoryId</tspan><tspan x="16" dy="12.1">ManufacturerId</tspan><tspan x="16" dy="12.1">ProductNameInEnglish</tspan><tspan x="16" dy="12.1">ProductUnit</tspan><tspan x="16" dy="12.1">ProductDescriptionInEngli...</tspan><tspan x="16" dy="12.1">VATRate</tspan><tspan x="16" dy="12.1">ImportTaxRate</tspan><tspan x="16" dy="12.1">ImageLocation</tspan><tspan x="16" dy="12.1">Discountrate</tspan><tspan x="16" dy="12.1">CreatedDate</tspan></text></g>

<g id="PricesForSalesInvoice" transform="translate(622 676)"><rect class="bx" x=".8" y=".8" width="85.4" height="101.4"/><rect class="hd" x="1.6" y="1.6" width="83.8" height="11.4"/><text class="tt" x="3" y="10.5" textLength="83" lengthAdjust="spacingAndGlyphs">PricesForSalesInvoice</text><rect class="rw" x="11" y="13" width="57" height="88"/><path class="ks" d="M11 13V101"/><g transform="translate(68 0)"><rect class="tr" y="12" width="17" height="89"/><rect class="th" x=".5" y="27.5" width="16" height="40"/><use href="#ub" y="12"/><use href="#db" y="85"/></g><use href="#k" x="7" y="16.3"/><use href="#k" x="7" y="28.4"/><text class="f" x="16" y="17.6"><tspan>DateOfPrice</tspan><tspan x="16" dy="12.1">ProductId</tspan><tspan x="16" dy="12.1">Price</tspan><tspan x="16" dy="12.1">CurrencyId</tspan><tspan x="16" dy="12.1">PriceDiscountrate</tspan><tspan x="16" dy="12.1">CreatedDate</tspan><tspan x="16" dy="12.1">CreatedBy</tspan></text></g>

<g id="SalesInvoices" transform="translate(252 685)"><rect class="bx" x=".8" y=".8" width="85.4" height="139.4"/><rect class="hd" x="1.6" y="1.6" width="83.8" height="11.4"/><text class="tt" x="3" y="10.5">SalesInvoices</text><rect class="rw" x="11" y="13" width="57" height="126"/><path class="ks" d="M11 13V139"/><g transform="translate(68 0)"><rect class="tr" y="12" width="17" height="127"/><rect class="th" x=".5" y="27.5" width="16" height="67"/><use href="#ub" y="12"/><use href="#db" y="123"/></g><use href="#k" x="7" y="16.3"/><text class="f" x="16" y="17.6"><tspan>InvoiceId</tspan><tspan x="16" dy="12.1">InvoiceBatchId</tspan><tspan x="16" dy="12.1">InvoiceDate</tspan><tspan x="16" dy="12.1">InvoiceTypeId</tspan><tspan x="16" dy="12.1">CustomerId</tspan><tspan x="16" dy="12.1">CurrencyId</tspan><tspan x="16" dy="12.1">ExchangeRate</tspan><tspan x="16" dy="12.1">DescriptionInEnglish</tspan><tspan x="16" dy="12.1">InvoiceStatus</tspan><tspan x="16" dy="12.1">CreatedDate</tspan></text></g>

<g id="SalesInvoiceBatchs" transform="translate(376 710)"><rect class="bx" x=".8" y=".8" width="85.4" height="92.4"/><rect class="hd" x="1.6" y="1.6" width="83.8" height="11.4"/><text class="tt" x="3" y="10.5">SalesInvoiceBatchs</text><rect class="rw" x="11" y="13" width="57" height="79"/><path class="ks" d="M11 13V92"/><g transform="translate(68 0)"><rect class="tr" y="12" width="17" height="80"/><rect class="th" x=".5" y="27.5" width="16" height="34"/><use href="#ub" y="12"/><use href="#db" y="76"/></g><use href="#k" x="7" y="16.3"/><text class="f" x="16" y="17.6"><tspan>InvoiceBatchId</tspan><tspan x="16" dy="12.1">InvoiceBatchDate</tspan><tspan x="16" dy="12.1">DescriptionInEnglish</tspan><tspan x="16" dy="12.1">BatchStatus</tspan><tspan x="16" dy="12.1">CreatedDate</tspan><tspan x="16" dy="12.1">CreatedBy</tspan><tspan x="16" dy="12.1">ModifiedDate</tspan></text></g>

<g id="Suppliers" transform="translate(127 723)"><rect class="bx" x=".8" y=".8" width="86.4" height="188.4"/><rect class="hd" x="1.6" y="1.6" width="84.8" height="11.4"/><text class="tt" x="3" y="10.5">Suppliers</text><rect class="rw" x="11" y="13" width="58" height="175"/><path class="ks" d="M11 13V188"/><g transform="translate(69 0)"><rect class="tr" y="12" width="17" height="176"/><rect class="th" x=".5" y="27.5" width="16" height="101"/><use href="#ub" y="12"/><use href="#db" y="172"/></g><use href="#k" x="7" y="16.3"/><text class="f" x="16" y="17.6"><tspan>SupplierId</tspan><tspan x="16" dy="12.1">CompanyNameInEnglish</tspan><tspan x="16" dy="12.1">CompanyNameInSecond...</tspan><tspan x="16" dy="12.1">ContactName</tspan><tspan x="16" dy="12.1">ContactTitle</tspan><tspan x="16" dy="12.1">DueDate</tspan><tspan x="16" dy="12.1">Address</tspan><tspan x="16" dy="12.1">SupplierTypeId</tspan><tspan x="16" dy="12.1">ProvinceId</tspan><tspan x="16" dy="12.1">Telephone</tspan><tspan x="16" dy="12.1">FaxNumber</tspan><tspan x="16" dy="12.1">EmailAddress</tspan><tspan x="16" dy="12.1">Discountrate</tspan><tspan x="16" dy="12.1">MaxDebitAmount</tspan><tspan x="16" dy="12.1">CreatedDate</tspan></text></g>

<g id="Provinces" transform="translate(5 775)"><rect class="bx" x=".8" y=".8" width="85.4" height="82.4"/><rect class="hd" x="1.6" y="1.6" width="83.8" height="11.4"/><text class="tt" x="3" y="10.5">Provinces</text><rect class="rw" x="11" y="13" width="57" height="69"/><path class="ks" d="M11 13V82"/><g transform="translate(68 0)"><rect class="tr" y="12" width="17" height="70"/><rect class="th" x=".5" y="27.5" width="16" height="27"/><use href="#ub" y="12"/><use href="#db" y="66"/></g><use href="#k" x="7" y="16.3"/><text class="f" x="16" y="17.6"><tspan>ProvinceId</tspan><tspan x="16" dy="12.1">ProvinceName</tspan><tspan x="16" dy="12.1">CountryId</tspan><tspan x="16" dy="12.1">CreatedDate</tspan><tspan x="16" dy="12.1">CreatedBy</tspan><tspan x="16" dy="12.1">ModifiedDate</tspan></text></g>

<g id="Countries" transform="translate(5 898)"><rect class="bx" x=".8" y=".8" width="85.4" height="72.4"/><rect class="hd" x="1.6" y="1.6" width="83.8" height="11.4"/><text class="tt" x="3" y="10.5">Countries</text><rect class="rw" x="11" y="13" width="57" height="59"/><path class="ks" d="M11 13V72"/><g transform="translate(68 0)"><rect class="tr" y="12" width="17" height="60"/><rect class="th" x=".5" y="27.5" width="16" height="20"/><use href="#ub" y="12"/><use href="#db" y="56"/></g><use href="#k" x="7" y="16.3"/><text class="f" x="16" y="17.6"><tspan>CountryId</tspan><tspan x="16" dy="12.1">CountryName</tspan><tspan x="16" dy="12.1">CreatedDate</tspan><tspan x="16" dy="12.1">CreatedBy</tspan><tspan x="16" dy="12.1">ModifiedDate</tspan></text></g>

<g id="SalesInvoiceTypes" transform="translate(252 864)"><rect class="bx" x=".8" y=".8" width="85.4" height="72.4"/><rect class="hd" x="1.6" y="1.6" width="83.8" height="11.4"/><text class="tt" x="3" y="10.5">SalesInvoiceTypes</text><rect class="rw" x="11" y="13" width="57" height="59"/><path class="ks" d="M11 13V72"/><g transform="translate(68 0)"><rect class="tr" y="12" width="17" height="60"/><rect class="th" x=".5" y="27.5" width="16" height="20"/><use href="#ub" y="12"/><use href="#db" y="56"/></g><use href="#k" x="7" y="16.3"/><text class="f" x="16" y="17.6"><tspan>InvoiceTypeId</tspan><tspan x="16" dy="12.1">InvoiceTypeName</tspan><tspan x="16" dy="12.1">CreatedDate</tspan><tspan x="16" dy="12.1">CreatedBy</tspan><tspan x="16" dy="12.1">ModifiedDate</tspan></text></g>

<g id="Functions" transform="translate(862 679)"><rect class="bx" x=".8" y=".8" width="86.4" height="91.4"/><rect class="hd" x="1.6" y="1.6" width="84.8" height="11.4"/><text class="tt" x="3" y="10.5">Functions</text><rect class="rw" x="11" y="13" width="58" height="78"/><path class="ks" d="M11 13V91"/><g transform="translate(69 0)"><rect class="tr" y="12" width="17" height="79"/><rect class="th" x=".5" y="27.5" width="16" height="33"/><use href="#ub" y="12"/><use href="#db" y="75"/></g><use href="#k" x="7" y="16.3"/><text class="f" x="16" y="17.6"><tspan>FunctionId</tspan><tspan x="16" dy="12.1">ModuleId</tspan><tspan x="16" dy="12.1">FunctionName</tspan><tspan x="16" dy="12.1">FunctionDescription</tspan><tspan x="16" dy="12.1">CreatedDate</tspan><tspan x="16" dy="12.1">CreatedBy</tspan><tspan x="16" dy="12.1">ModifiedDate</tspan></text></g>

<g id="ExchangeRate" transform="translate(996 679)"><rect class="bx" x=".8" y=".8" width="85.4" height="91.4"/><rect class="hd" x="1.6" y="1.6" width="83.8" height="11.4"/><text class="tt" x="3" y="10.5">ExchangeRate</text><rect class="rw" x="11" y="13" width="57" height="78"/><path class="ks" d="M11 13V91"/><g transform="translate(68 0)"><rect class="tr" y="12" width="17" height="79"/><rect class="th" x=".5" y="27.5" width="16" height="33"/><use href="#ub" y="12"/><use href="#db" y="75"/></g><use href="#k" x="7" y="16.3"/><use href="#k" x="7" y="28.4"/><text class="f" x="16" y="17.6"><tspan>CurrencyId</tspan><tspan x="16" dy="12.1">DateOfRate</tspan><tspan x="16" dy="12.1">Rate</tspan><tspan x="16" dy="12.1">Discountrate</tspan><tspan x="16" dy="12.1">CreatedDate</tspan><tspan x="16" dy="12.1">CreatedBy</tspan><tspan x="16" dy="12.1">ModifiedDate</tspan></text></g>

<g id="CloseMonthAccountPay" transform="translate(1128 679)"><rect class="bx" x=".8" y=".8" width="91.4" height="100.4"/><rect class="hd" x="1.6" y="1.6" width="89.8" height="11.4"/><text class="tt" x="3" y="10.5" textLength="89" lengthAdjust="spacingAndGlyphs">CloseMonthAccountPay</text><rect class="rw" x="11" y="13" width="63" height="87"/><path class="ks" d="M11 13V100"/><g transform="translate(74 0)"><rect class="tr" y="12" width="17" height="88"/><rect class="th" x=".5" y="27.5" width="16" height="39"/><use href="#ub" y="12"/><use href="#db" y="84"/></g><use href="#k" x="7" y="16.3"/><text class="f" x="16" y="17.6"><tspan>CloseMonth</tspan><tspan x="16" dy="12.1">BeginAmount</tspan><tspan x="16" dy="12.1">PurchaseAmount</tspan><tspan x="16" dy="12.1">PaidAmount</tspan><tspan x="16" dy="12.1">EndAmount</tspan><tspan x="16" dy="12.1">CreatedDate</tspan><tspan x="16" dy="12.1">CreatedBy</tspan></text></g>

<g id="CloseMonthCashBalanceDe" transform="translate(871 802)"><rect class="bx" x=".8" y=".8" width="105.4" height="141.4"/><rect class="hd" x="1.6" y="1.6" width="103.8" height="11.4"/><text class="tt" x="3" y="10.5" textLength="103" lengthAdjust="spacingAndGlyphs">CloseMonthCashBalanceDe</text><rect class="rw" x="11" y="13" width="77" height="128"/><path class="ks" d="M11 13V141"/><g transform="translate(88 0)"><rect class="tr" y="12" width="17" height="129"/><rect class="th" x=".5" y="27.5" width="16" height="68"/><use href="#ub" y="12"/><use href="#db" y="125"/></g><use href="#k" x="7" y="16.3"/><use href="#k" x="7" y="28.4"/><text class="f" x="16" y="17.6"><tspan>BalanceId</tspan><tspan x="16" dy="12.1">CloseMonth</tspan><tspan x="16" dy="12.1">IssueId</tspan><tspan x="16" dy="12.1">PartnerId</tspan><tspan x="16" dy="12.1">IssueDate</tspan><tspan x="16" dy="12.1">ReceiptAmount</tspan><tspan x="16" dy="12.1">PaymentAmount</tspan><tspan x="16" dy="12.1">BalanceAmount</tspan><tspan x="16" dy="12.1">DescriptionInEnglish</tspan><tspan x="16" dy="12.1">CreatedDate</tspan><tspan x="16" dy="12.1">CreatedBy</tspan></text></g>

<g id="CloseMonthInventoryCor" transform="translate(998 809)"><rect class="bx" x=".8" y=".8" width="98.4" height="63.4"/><rect class="hd" x="1.6" y="1.6" width="96.8" height="11.4"/><text class="tt" x="3" y="10.5" textLength="96" lengthAdjust="spacingAndGlyphs">CloseMonthInventoryCor</text><rect class="rw" x="11" y="13" width="70" height="50"/><path class="ks" d="M11 13V63"/><g transform="translate(81 0)"><rect class="tr" y="12" width="17" height="51"/><rect class="th" x=".5" y="27.5" width="16" height="14"/><use href="#ub" y="12"/><use href="#db" y="47"/></g><use href="#k" x="7" y="16.3"/><text class="f" x="16" y="17.6"><tspan>CloseMonth</tspan><tspan x="16" dy="12.1">CreatedDate</tspan><tspan x="16" dy="12.1">CreatedBy</tspan><tspan x="16" dy="12.1">ModifiedDate</tspan></text></g>

<g id="Banks" transform="translate(1132 818)"><rect class="bx" x=".8" y=".8" width="85.4" height="83.4"/><rect class="hd" x="1.6" y="1.6" width="83.8" height="11.4"/><text class="tt" x="3" y="10.5">Banks</text><rect class="rw" x="11" y="13" width="57" height="70"/><path class="ks" d="M11 13V83"/><g transform="translate(68 0)"><rect class="tr" y="12" width="17" height="71"/><rect class="th" x=".5" y="27.5" width="16" height="28"/><use href="#ub" y="12"/><use href="#db" y="67"/></g><use href="#k" x="7" y="16.3"/><text class="f" x="16" y="17.6"><tspan>BankId</tspan><tspan x="16" dy="12.1">BankName</tspan><tspan x="16" dy="12.1">BankAddress</tspan><tspan x="16" dy="12.1">CreatedDate</tspan><tspan x="16" dy="12.1">CreatedBy</tspan><tspan x="16" dy="12.1">ModifiedDate</tspan></text></g>

<g id="Reports" transform="translate(1007 923)"><rect class="bx" x=".8" y=".8" width="86.4" height="53.4"/><rect class="hd" x="1.6" y="1.6" width="84.8" height="11.4"/><text class="tt" x="3" y="10.5">Reports</text><rect class="rw" x="11" y="13" width="58" height="40"/><path class="ks" d="M11 13V53"/><g transform="translate(69 0)"><rect class="tr" y="12" width="17" height="41"/><rect class="th" x=".5" y="27.5" width="16" height="7"/><use href="#ub" y="12"/><use href="#db" y="37"/></g><use href="#k" x="7" y="16.3"/><text class="f" x="16" y="17.6"><tspan>ReportName</tspan><tspan x="16" dy="12.1">DataSheet</tspan><tspan x="16" dy="12.1">SingleForm</tspan></text></g>

<g id="BankOfSuppliers" transform="translate(1128 935)"><rect class="bx" x=".8" y=".8" width="85.4" height="100.4"/><rect class="hd" x="1.6" y="1.6" width="83.8" height="11.4"/><text class="tt" x="3" y="10.5">BankOfSuppliers</text><rect class="rw" x="11" y="13" width="57" height="87"/><path class="ks" d="M11 13V100"/><g transform="translate(68 0)"><rect class="tr" y="12" width="17" height="88"/><rect class="th" x=".5" y="27.5" width="16" height="39"/><use href="#ub" y="12"/><use href="#db" y="84"/></g><use href="#k" x="7" y="16.3"/><use href="#k" x="7" y="28.4"/><text class="f" x="16" y="17.6"><tspan>SupplierId</tspan><tspan x="16" dy="12.1">BankId</tspan><tspan x="16" dy="12.1">VNDAccountNo</tspan><tspan x="16" dy="12.1">USDAccountNo</tspan><tspan x="16" dy="12.1">OtherAccountNo</tspan><tspan x="16" dy="12.1">CreatedDate</tspan><tspan x="16" dy="12.1">CreatedBy</tspan></text></g>

<g id="Categories" transform="translate(808 976)"><rect class="bx" x=".8" y=".8" width="85.4" height="100.4"/><rect class="hd" x="1.6" y="1.6" width="83.8" height="11.4"/><text class="tt" x="3" y="10.5">Categories</text><rect class="rw" x="11" y="13" width="57" height="87"/><path class="ks" d="M11 13V100"/><g transform="translate(68 0)"><rect class="tr" y="12" width="17" height="88"/><rect class="th" x=".5" y="27.5" width="16" height="39"/><use href="#ub" y="12"/><use href="#db" y="84"/></g><use href="#k" x="7" y="16.3"/><text class="f" x="16" y="17.6"><tspan>CategoryId</tspan><tspan x="16" dy="12.1">CategoryNameInEnglish</tspan><tspan x="16" dy="12.1">CategoryDescriptionIn...</tspan><tspan x="16" dy="12.1">DueDate</tspan><tspan x="16" dy="12.1">Discountrate</tspan><tspan x="16" dy="12.1">CreatedDate</tspan><tspan x="16" dy="12.1">CreatedBy</tspan></text></g>

<g id="SupplierTypes" transform="translate(1010 1002)"><rect class="bx" x=".8" y=".8" width="85.4" height="73.4"/><rect class="hd" x="1.6" y="1.6" width="83.8" height="11.4"/><text class="tt" x="3" y="10.5">SupplierTypes</text><rect class="rw" x="11" y="13" width="57" height="60"/><path class="ks" d="M11 13V73"/><g transform="translate(68 0)"><rect class="tr" y="12" width="17" height="61"/><rect class="th" x=".5" y="27.5" width="16" height="21"/><use href="#ub" y="12"/><use href="#db" y="57"/></g><use href="#k" x="7" y="16.3"/><text class="f" x="16" y="17.6"><tspan>SupplierTypeId</tspan><tspan x="16" dy="12.1">SupplierTypeName</tspan><tspan x="16" dy="12.1">CreatedDate</tspan><tspan x="16" dy="12.1">CreatedBy</tspan><tspan x="16" dy="12.1">ModifiedDate</tspan></text></g>

<g id="SubAccountNumbers" transform="translate(1130 1072)"><rect class="bx" x=".8" y=".8" width="85.4" height="102.4"/><rect class="hd" x="1.6" y="1.6" width="83.8" height="11.4"/><text class="tt" x="3" y="10.5">SubAccountNumbers</text><rect class="rw" x="11" y="13" width="57" height="89"/><path class="ks" d="M11 13V102"/><g transform="translate(68 0)"><rect class="tr" y="12" width="17" height="90"/><rect class="th" x=".5" y="27.5" width="16" height="41"/><use href="#ub" y="12"/><use href="#db" y="86"/></g><use href="#k" x="7" y="16.3"/><text class="f" x="16" y="17.6"><tspan>SubAccountId</tspan><tspan x="16" dy="12.1">AccountId</tspan><tspan x="16" dy="12.1">ParentAccountId</tspan><tspan x="16" dy="12.1">SubAccountNameInEngli...</tspan><tspan x="16" dy="12.1">SubAccountNameInSeco...</tspan><tspan x="16" dy="12.1">CreatedDate</tspan><tspan x="16" dy="12.1">CreatedBy</tspan></text></g>

<g id="CloseMonthAccountPayableD" transform="translate(983 1095)"><rect class="bx" x=".8" y=".8" width="116.4" height="112.4"/><rect class="hd" x="1.6" y="1.6" width="114.8" height="11.4"/><text class="tt" x="3" y="10.5" textLength="113" lengthAdjust="spacingAndGlyphs">CloseMonthAccountPayableD</text><rect class="rw" x="11" y="13" width="88" height="99"/><path class="ks" d="M11 13V112"/><g transform="translate(99 0)"><rect class="tr" y="12" width="17" height="100"/><rect class="th" x=".5" y="27.5" width="16" height="48"/><use href="#ub" y="12"/><use href="#db" y="96"/></g><use href="#k" x="7" y="16.3"/><use href="#k" x="7" y="28.4"/><text class="f" x="16" y="17.6"><tspan>SupplierId</tspan><tspan x="16" dy="12.1">CloseMonth</tspan><tspan x="16" dy="12.1">BeginAmount</tspan><tspan x="16" dy="12.1">PurchaseAmount</tspan><tspan x="16" dy="12.1">PaidAmount</tspan><tspan x="16" dy="12.1">EndAmount</tspan><tspan x="16" dy="12.1">CreatedDate</tspan><tspan x="16" dy="12.1">CreatedBy</tspan></text></g>

<g id="ExportDetails" transform="translate(191 986)"><rect class="bx" x=".8" y=".8" width="85.4" height="102.4"/><rect class="hd" x="1.6" y="1.6" width="83.8" height="11.4"/><text class="tt" x="3" y="10.5">ExportDetails</text><rect class="rw" x="11" y="13" width="57" height="89"/><path class="ks" d="M11 13V102"/><g transform="translate(68 0)"><rect class="tr" y="12" width="17" height="90"/><rect class="th" x=".5" y="27.5" width="16" height="41"/><use href="#ub" y="12"/><use href="#db" y="86"/></g><use href="#k" x="7" y="16.3"/><use href="#k" x="7" y="28.4"/><use href="#k" x="7" y="40.5"/><use href="#k" x="7" y="52.6"/><text class="f" x="16" y="17.6"><tspan>OrdinalNumber</tspan><tspan x="16" dy="12.1">ExportId</tspan><tspan x="16" dy="12.1">ProductId</tspan><tspan x="16" dy="12.1">StockId</tspan><tspan x="16" dy="12.1">Quantity</tspan><tspan x="16" dy="12.1">CreatedDate</tspan><tspan x="16" dy="12.1">CreatedBy</tspan></text></g>

<g id="Stocks" transform="translate(313 995)"><rect class="bx" x=".8" y=".8" width="86.4" height="83.4"/><rect class="hd" x="1.6" y="1.6" width="84.8" height="11.4"/><text class="tt" x="3" y="10.5">Stocks</text><rect class="rw" x="11" y="13" width="58" height="70"/><path class="ks" d="M11 13V83"/><g transform="translate(69 0)"><rect class="tr" y="12" width="17" height="71"/><rect class="th" x=".5" y="27.5" width="16" height="28"/><use href="#ub" y="12"/><use href="#db" y="67"/></g><use href="#k" x="7" y="16.3"/><text class="f" x="16" y="17.6"><tspan>StockId</tspan><tspan x="16" dy="12.1">StockName</tspan><tspan x="16" dy="12.1">StockAddress</tspan><tspan x="16" dy="12.1">CreatedDate</tspan><tspan x="16" dy="12.1">CreatedBy</tspan><tspan x="16" dy="12.1">ModifiedDate</tspan></text></g>

<g id="ImportDetails" transform="translate(438 982)"><rect class="bx" x=".8" y=".8" width="85.4" height="112.4"/><rect class="hd" x="1.6" y="1.6" width="83.8" height="11.4"/><text class="tt" x="3" y="10.5">ImportDetails</text><rect class="rw" x="11" y="13" width="57" height="99"/><path class="ks" d="M11 13V112"/><g transform="translate(68 0)"><rect class="tr" y="12" width="17" height="100"/><rect class="th" x=".5" y="27.5" width="16" height="48"/><use href="#ub" y="12"/><use href="#db" y="96"/></g><use href="#k" x="7" y="16.3"/><use href="#k" x="7" y="28.4"/><use href="#k" x="7" y="40.5"/><use href="#k" x="7" y="52.6"/><text class="f" x="16" y="17.6"><tspan>OrdinalNumber</tspan><tspan x="16" dy="12.1">ImportId</tspan><tspan x="16" dy="12.1">ProductId</tspan><tspan x="16" dy="12.1">StockId</tspan><tspan x="16" dy="12.1">Quantity</tspan><tspan x="16" dy="12.1">BadProduct</tspan><tspan x="16" dy="12.1">CreatedDate</tspan><tspan x="16" dy="12.1">CreatedBy</tspan></text></g>

<g id="Imports" transform="translate(561 975)"><rect class="bx" x=".8" y=".8" width="85.4" height="120.4"/><rect class="hd" x="1.6" y="1.6" width="83.8" height="11.4"/><text class="tt" x="3" y="10.5">Imports</text><rect class="rw" x="11" y="13" width="57" height="107"/><path class="ks" d="M11 13V120"/><g transform="translate(68 0)"><rect class="tr" y="12" width="17" height="108"/><rect class="th" x=".5" y="27.5" width="16" height="54"/><use href="#ub" y="12"/><use href="#db" y="104"/></g><use href="#k" x="7" y="16.3"/><text class="f" x="16" y="17.6"><tspan>ImportId</tspan><tspan x="16" dy="12.1">ImportBatchId</tspan><tspan x="16" dy="12.1">ImportDate</tspan><tspan x="16" dy="12.1">ImportTypeId</tspan><tspan x="16" dy="12.1">SupplierId</tspan><tspan x="16" dy="12.1">DescriptionInEnglish</tspan><tspan x="16" dy="12.1">ImportStatus</tspan><tspan x="16" dy="12.1">CreatedDate</tspan><tspan x="16" dy="12.1">CreatedBy</tspan></text></g>

<g id="ImportBatchs" transform="translate(683 991)"><rect class="bx" x=".8" y=".8" width="85.4" height="91.4"/><rect class="hd" x="1.6" y="1.6" width="83.8" height="11.4"/><text class="tt" x="3" y="10.5">ImportBatchs</text><rect class="rw" x="11" y="13" width="57" height="78"/><path class="ks" d="M11 13V91"/><g transform="translate(68 0)"><rect class="tr" y="12" width="17" height="79"/><rect class="th" x=".5" y="27.5" width="16" height="33"/><use href="#ub" y="12"/><use href="#db" y="75"/></g><use href="#k" x="7" y="16.3"/><text class="f" x="16" y="17.6"><tspan>ImportBatchId</tspan><tspan x="16" dy="12.1">ImportBatchDate</tspan><tspan x="16" dy="12.1">DescriptionInEnglish</tspan><tspan x="16" dy="12.1">BatchStatus</tspan><tspan x="16" dy="12.1">CreatedDate</tspan><tspan x="16" dy="12.1">CreatedBy</tspan><tspan x="16" dy="12.1">ModifiedDate</tspan></text></g>

<g id="ImportTypes" transform="translate(561 1136)"><rect class="bx" x=".8" y=".8" width="85.4" height="73.4"/><rect class="hd" x="1.6" y="1.6" width="83.8" height="11.4"/><text class="tt" x="3" y="10.5">ImportTypes</text><rect class="rw" x="11" y="13" width="57" height="60"/><path class="ks" d="M11 13V73"/><g transform="translate(68 0)"><rect class="tr" y="12" width="17" height="61"/><rect class="th" x=".5" y="27.5" width="16" height="21"/><use href="#ub" y="12"/><use href="#db" y="57"/></g><use href="#k" x="7" y="16.3"/><text class="f" x="16" y="17.6"><tspan>ImportTypeId</tspan><tspan x="16" dy="12.1">ImportTypeName</tspan><tspan x="16" dy="12.1">CreatedDate</tspan><tspan x="16" dy="12.1">CreatedBy</tspan><tspan x="16" dy="12.1">ModifiedDate</tspan></text></g>

<g id="Exports" transform="translate(57 1122)"><rect class="bx" x=".8" y=".8" width="85.4" height="121.4"/><rect class="hd" x="1.6" y="1.6" width="83.8" height="11.4"/><text class="tt" x="3" y="10.5">Exports</text><rect class="rw" x="11" y="13" width="57" height="108"/><path class="ks" d="M11 13V121"/><g transform="translate(68 0)"><rect class="tr" y="12" width="17" height="109"/><rect class="th" x=".5" y="27.5" width="16" height="54"/><use href="#ub" y="12"/><use href="#db" y="105"/></g><use href="#k" x="7" y="16.3"/><text class="f" x="16" y="17.6"><tspan>ExportId</tspan><tspan x="16" dy="12.1">ExportBatchId</tspan><tspan x="16" dy="12.1">ExportDate</tspan><tspan x="16" dy="12.1">ExportTypeId</tspan><tspan x="16" dy="12.1">CustomerId</tspan><tspan x="16" dy="12.1">DescriptionInEnglish</tspan><tspan x="16" dy="12.1">ExportStatus</tspan><tspan x="16" dy="12.1">CreatedDate</tspan><tspan x="16" dy="12.1">CreatedBy</tspan></text></g>

<g id="ExportBatchs" transform="translate(180 1138)"><rect class="bx" x=".8" y=".8" width="85.4" height="93.4"/><rect class="hd" x="1.6" y="1.6" width="83.8" height="11.4"/><text class="tt" x="3" y="10.5">ExportBatchs</text><rect class="rw" x="11" y="13" width="57" height="80"/><path class="ks" d="M11 13V93"/><g transform="translate(68 0)"><rect class="tr" y="12" width="17" height="81"/><rect class="th" x=".5" y="27.5" width="16" height="35"/><use href="#ub" y="12"/><use href="#db" y="77"/></g><use href="#k" x="7" y="16.3"/><text class="f" x="16" y="17.6"><tspan>ExportBatchId</tspan><tspan x="16" dy="12.1">ExportBatchDate</tspan><tspan x="16" dy="12.1">DescriptionInEnglish</tspan><tspan x="16" dy="12.1">BatchStatus</tspan><tspan x="16" dy="12.1">CreatedDate</tspan><tspan x="16" dy="12.1">CreatedBy</tspan><tspan x="16" dy="12.1">ModifiedDate</tspan></text></g>

<g id="ExportTypes" transform="translate(57 1283)"><rect class="bx" x=".8" y=".8" width="85.4" height="73.4"/><rect class="hd" x="1.6" y="1.6" width="83.8" height="11.4"/><text class="tt" x="3" y="10.5">ExportTypes</text><rect class="rw" x="11" y="13" width="57" height="60"/><path class="ks" d="M11 13V73"/><g transform="translate(68 0)"><rect class="tr" y="12" width="17" height="61"/><rect class="th" x=".5" y="27.5" width="16" height="21"/><use href="#ub" y="12"/><use href="#db" y="57"/></g><use href="#k" x="7" y="16.3"/><text class="f" x="16" y="17.6"><tspan>ExportTypeId</tspan><tspan x="16" dy="12.1">ExportTypeName</tspan><tspan x="16" dy="12.1">CreatedDate</tspan><tspan x="16" dy="12.1">CreatedBy</tspan><tspan x="16" dy="12.1">ModifiedDate</tspan></text></g>

<g id="connectors">
<path class="cn" d="M462 295H499M587 295H622M543 366V403M783 316V353M917 316V353M418 361V485H543V646M339 580H470V728H499M295 647V685M92 639H223V755H252M339 755H376M295 826V864M48 739V775M48 859V898M92 818H127M587 728H622M536 807V964H234V986M543 807V967H481V982M549 807V967H851V976M278 1038H313M401 1038H438M525 1036H561M648 1036H683M605 1097V1136M191 1088H168V1124H144M144 1183H180M100 1245V1283"/>
<use href="#gi" transform="translate(462 295) rotate(180)"/><use href="#gk" transform="translate(499 295)"/>
<use href="#gi" transform="translate(587 295) rotate(180)"/><use href="#gk" transform="translate(622 295)"/>
<use href="#gi" transform="translate(543 366) rotate(-90)"/><use href="#gk" transform="translate(543 403) rotate(90)"/>
<use href="#gi" transform="translate(783 316) rotate(-90)"/><use href="#gk" transform="translate(783 353) rotate(90)"/>
<use href="#gi" transform="translate(917 316) rotate(-90)"/><use href="#gk" transform="translate(917 353) rotate(90)"/>
<use href="#gi" transform="translate(418 361) rotate(-90)"/><use href="#gk" transform="translate(543 646) rotate(90)"/>
<use href="#gi" transform="translate(339 580) rotate(180)"/><use href="#gk" transform="translate(499 728)"/>
<use href="#gi" transform="translate(295 647) rotate(-90)"/><use href="#gk" transform="translate(295 685) rotate(90)"/>
<use href="#gk" transform="translate(92 639) rotate(180)"/><use href="#gb" transform="translate(252 755)"/>
<use href="#gi" transform="translate(339 755) rotate(180)"/><use href="#gk" transform="translate(376 755)"/>
<use href="#gi" transform="translate(295 826) rotate(-90)"/><use href="#gk" transform="translate(295 864) rotate(90)"/>
<use href="#gi" transform="translate(48 739) rotate(-90)"/><use href="#gk" transform="translate(48 775) rotate(90)"/>
<use href="#gi" transform="translate(48 859) rotate(-90)"/><use href="#gk" transform="translate(48 898) rotate(90)"/>
<use href="#gk" transform="translate(92 818) rotate(180)"/><use href="#gb" transform="translate(127 818)"/>
<use href="#gk" transform="translate(587 728) rotate(180)"/><use href="#gb" transform="translate(622 728)"/>
<use href="#gk" transform="translate(536 807) rotate(-90)"/><use href="#gi" transform="translate(234 986) rotate(90)"/>
<use href="#gk" transform="translate(543 807) rotate(-90)"/><use href="#gi" transform="translate(481 982) rotate(90)"/>
<use href="#gi" transform="translate(549 807) rotate(-90)"/><use href="#gk" transform="translate(851 976) rotate(90)"/>
<use href="#gi" transform="translate(278 1038) rotate(180)"/><use href="#gk" transform="translate(313 1038)"/>
<use href="#gk" transform="translate(401 1038) rotate(180)"/><use href="#gb" transform="translate(438 1038)"/>
<use href="#gi" transform="translate(525 1036) rotate(180)"/><use href="#gk" transform="translate(561 1036)"/>
<use href="#gi" transform="translate(648 1036) rotate(180)"/><use href="#gk" transform="translate(683 1036)"/>
<use href="#gi" transform="translate(605 1097) rotate(-90)"/><use href="#gk" transform="translate(605 1136) rotate(90)"/>
<use href="#gb" transform="translate(191 1088)"/><use href="#gk" transform="translate(144 1124) rotate(180)"/>
<use href="#gi" transform="translate(144 1183) rotate(180)"/><use href="#gk" transform="translate(180 1183)"/>
<use href="#gi" transform="translate(100 1245) rotate(-90)"/><use href="#gk" transform="translate(100 1283) rotate(90)"/>
</g>
</svg>
